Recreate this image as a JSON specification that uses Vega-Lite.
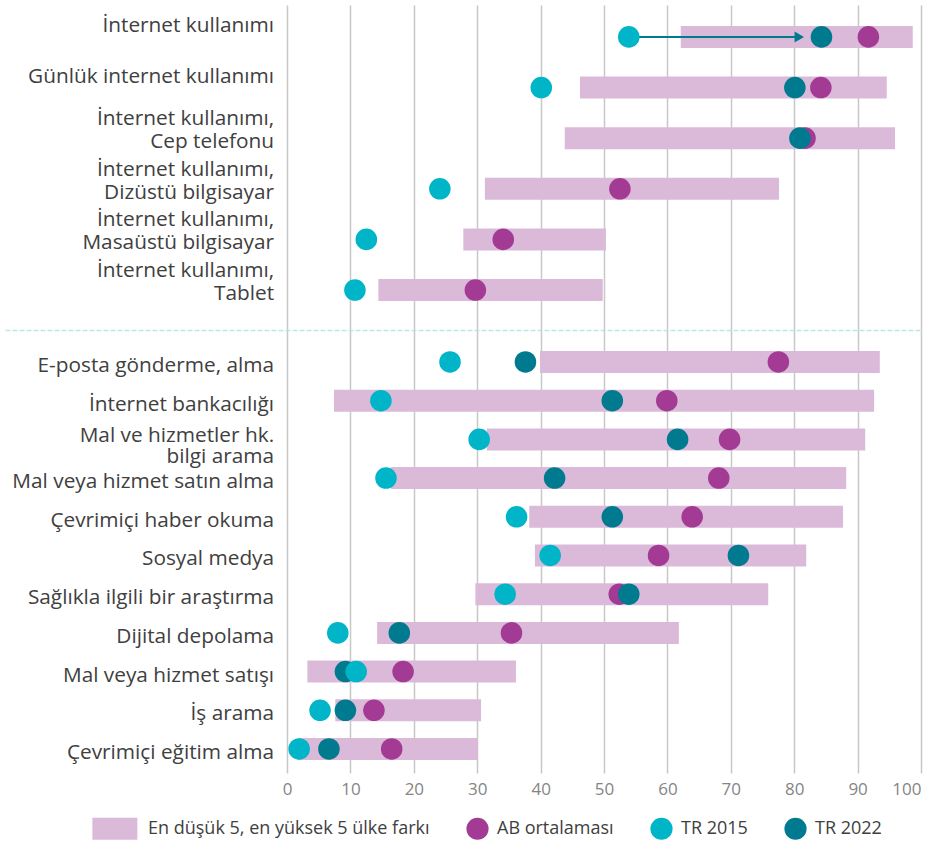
{
  "$schema": "https://vega.github.io/schema/vega-lite/v6.json",
  "datasets": {
    "araliklar": [
      {"grup": "ust", "kategori": "İnternet kullanımı", "alt": 62.1, "ust": 98.7},
      {"grup": "ust", "kategori": "Günlük internet kullanımı", "alt": 46.2, "ust": 94.6},
      {"grup": "ust", "kategori": "İnternet kullanımı,\nCep telefonu", "alt": 43.8, "ust": 95.9},
      {"grup": "ust", "kategori": "İnternet kullanımı,\nDizüstü bilgisayar", "alt": 31.2, "ust": 77.6},
      {"grup": "ust", "kategori": "İnternet kullanımı,\nMasaüstü bilgisayar", "alt": 27.8, "ust": 50.3},
      {"grup": "ust", "kategori": "İnternet kullanımı,\nTablet", "alt": 14.4, "ust": 49.8},
      {"grup": "alt", "kategori": "E-posta gönderme, alma", "alt": 39.9, "ust": 93.5},
      {"grup": "alt", "kategori": "İnternet bankacılığı", "alt": 7.4, "ust": 92.6},
      {"grup": "alt", "kategori": "Mal ve hizmetler hk.\nbilgi arama", "alt": 31.5, "ust": 91.2},
      {"grup": "alt", "kategori": "Mal veya hizmet satın alma", "alt": 16.4, "ust": 88.2},
      {"grup": "alt", "kategori": "Çevrimiçi haber okuma", "alt": 38.2, "ust": 87.7},
      {"grup": "alt", "kategori": "Sosyal medya", "alt": 39.1, "ust": 81.9},
      {"grup": "alt", "kategori": "Sağlıkla ilgili bir araştırma", "alt": 29.7, "ust": 75.9},
      {"grup": "alt", "kategori": "Dijital depolama", "alt": 14.2, "ust": 61.8},
      {"grup": "alt", "kategori": "Mal veya hizmet satışı", "alt": 3.2, "ust": 36.1},
      {"grup": "alt", "kategori": "İş arama", "alt": 7.6, "ust": 30.6},
      {"grup": "alt", "kategori": "Çevrimiçi eğitim alma", "alt": 1.7, "ust": 30.1}
    ],
    "noktalar": [
      {"grup": "ust", "kategori": "İnternet kullanımı", "seri": "AB ortalaması", "deger": 91.7},
      {"grup": "ust", "kategori": "İnternet kullanımı", "seri": "TR 2022", "deger": 84.3},
      {"grup": "ust", "kategori": "İnternet kullanımı", "seri": "TR 2015", "deger": 53.9},
      {"grup": "ust", "kategori": "Günlük internet kullanımı", "seri": "AB ortalaması", "deger": 84.2},
      {"grup": "ust", "kategori": "Günlük internet kullanımı", "seri": "TR 2022", "deger": 80.1},
      {"grup": "ust", "kategori": "Günlük internet kullanımı", "seri": "TR 2015", "deger": 40.1},
      {"grup": "ust", "kategori": "İnternet kullanımı,\nCep telefonu", "seri": "AB ortalaması", "deger": 81.7},
      {"grup": "ust", "kategori": "İnternet kullanımı,\nCep telefonu", "seri": "TR 2022", "deger": 80.9},
      {"grup": "ust", "kategori": "İnternet kullanımı,\nDizüstü bilgisayar", "seri": "AB ortalaması", "deger": 52.5},
      {"grup": "ust", "kategori": "İnternet kullanımı,\nDizüstü bilgisayar", "seri": "TR 2015", "deger": 24.1},
      {"grup": "ust", "kategori": "İnternet kullanımı,\nMasaüstü bilgisayar", "seri": "AB ortalaması", "deger": 34.1},
      {"grup": "ust", "kategori": "İnternet kullanımı,\nMasaüstü bilgisayar", "seri": "TR 2015", "deger": 12.5},
      {"grup": "ust", "kategori": "İnternet kullanımı,\nTablet", "seri": "AB ortalaması", "deger": 29.7},
      {"grup": "ust", "kategori": "İnternet kullanımı,\nTablet", "seri": "TR 2015", "deger": 10.7},
      {"grup": "alt", "kategori": "E-posta gönderme, alma", "seri": "AB ortalaması", "deger": 77.5},
      {"grup": "alt", "kategori": "E-posta gönderme, alma", "seri": "TR 2022", "deger": 37.6},
      {"grup": "alt", "kategori": "E-posta gönderme, alma", "seri": "TR 2015", "deger": 25.7},
      {"grup": "alt", "kategori": "İnternet bankacılığı", "seri": "AB ortalaması", "deger": 59.9},
      {"grup": "alt", "kategori": "İnternet bankacılığı", "seri": "TR 2022", "deger": 51.3},
      {"grup": "alt", "kategori": "İnternet bankacılığı", "seri": "TR 2015", "deger": 14.8},
      {"grup": "alt", "kategori": "Mal ve hizmetler hk.\nbilgi arama", "seri": "AB ortalaması", "deger": 69.8},
      {"grup": "alt", "kategori": "Mal ve hizmetler hk.\nbilgi arama", "seri": "TR 2022", "deger": 61.6},
      {"grup": "alt", "kategori": "Mal ve hizmetler hk.\nbilgi arama", "seri": "TR 2015", "deger": 30.3},
      {"grup": "alt", "kategori": "Mal veya hizmet satın alma", "seri": "AB ortalaması", "deger": 68.1},
      {"grup": "alt", "kategori": "Mal veya hizmet satın alma", "seri": "TR 2022", "deger": 42.2},
      {"grup": "alt", "kategori": "Mal veya hizmet satın alma", "seri": "TR 2015", "deger": 15.6},
      {"grup": "alt", "kategori": "Çevrimiçi haber okuma", "seri": "AB ortalaması", "deger": 63.9},
      {"grup": "alt", "kategori": "Çevrimiçi haber okuma", "seri": "TR 2022", "deger": 51.3},
      {"grup": "alt", "kategori": "Çevrimiçi haber okuma", "seri": "TR 2015", "deger": 36.2},
      {"grup": "alt", "kategori": "Sosyal medya", "seri": "AB ortalaması", "deger": 58.6},
      {"grup": "alt", "kategori": "Sosyal medya", "seri": "TR 2022", "deger": 71.2},
      {"grup": "alt", "kategori": "Sosyal medya", "seri": "TR 2015", "deger": 41.5},
      {"grup": "alt", "kategori": "Sağlıkla ilgili bir araştırma", "seri": "AB ortalaması", "deger": 52.4},
      {"grup": "alt", "kategori": "Sağlıkla ilgili bir araştırma", "seri": "TR 2022", "deger": 53.9},
      {"grup": "alt", "kategori": "Sağlıkla ilgili bir araştırma", "seri": "TR 2015", "deger": 34.4},
      {"grup": "alt", "kategori": "Dijital depolama", "seri": "AB ortalaması", "deger": 35.4},
      {"grup": "alt", "kategori": "Dijital depolama", "seri": "TR 2022", "deger": 17.7},
      {"grup": "alt", "kategori": "Dijital depolama", "seri": "TR 2015", "deger": 8.0},
      {"grup": "alt", "kategori": "Mal veya hizmet satışı", "seri": "AB ortalaması", "deger": 18.3},
      {"grup": "alt", "kategori": "Mal veya hizmet satışı", "seri": "TR 2022", "deger": 9.2},
      {"grup": "alt", "kategori": "Mal veya hizmet satışı", "seri": "TR 2015", "deger": 10.9},
      {"grup": "alt", "kategori": "İş arama", "seri": "AB ortalaması", "deger": 13.7},
      {"grup": "alt", "kategori": "İş arama", "seri": "TR 2022", "deger": 9.2},
      {"grup": "alt", "kategori": "İş arama", "seri": "TR 2015", "deger": 5.2},
      {"grup": "alt", "kategori": "Çevrimiçi eğitim alma", "seri": "AB ortalaması", "deger": 16.5},
      {"grup": "alt", "kategori": "Çevrimiçi eğitim alma", "seri": "TR 2022", "deger": 6.6},
      {"grup": "alt", "kategori": "Çevrimiçi eğitim alma", "seri": "TR 2015", "deger": 1.9}
    ],
    "ok": [
      {"kategori": "İnternet kullanımı", "baslangic": 53.9, "bitis": 80.8}
    ]
  },
  "spacing": 0,
  "vconcat": [
    {
      "width": 916,
      "height": 325,
      "encoding": {
        "y": {
          "field": "kategori",
          "type": "nominal",
          "axis": null,
          "scale": {
            "domain": ["İnternet kullanımı", "Günlük internet kullanımı", "İnternet kullanımı,\nCep telefonu", "İnternet kullanımı,\nDizüstü bilgisayar", "İnternet kullanımı,\nMasaüstü bilgisayar", "İnternet kullanımı,\nTablet"],
            "paddingInner": 0,
            "paddingOuter": 0.21,
            "align": 0.31
          }
        }
      },
      "layer": [
        {
          "data": {"name": "araliklar"},
          "transform": [{"filter": "datum.grup == 'ust'"}],
          "mark": {"type": "bar", "height": 22},
          "encoding": {
            "x": {
              "field": "alt", "type": "quantitative", "title": null,
              "scale": {"domain": [-44.5, 100], "nice": false, "zero": false},
              "axis": {"values": [0, 10, 20, 30, 40, 50, 60, 70, 80, 90, 100], "labels": false, "ticks": false, "domain": true, "domainColor": "#bfe5e9", "domainDash": [5, 2], "domainWidth": 1.5, "grid": true, "gridColor": "#c8c8c8", "gridWidth": 1.5, "title": null}
            },
            "x2": {"field": "ust"},
            "color": {
              "datum": "En düşük 5, en yüksek 5 ülke farkı", "type": "nominal",
              "scale": {"domain": ["En düşük 5, en yüksek 5 ülke farkı", "AB ortalaması", "TR 2015", "TR 2022"], "range": ["#dbbad9", "#a33b94", "#00b5c8", "#007a8f"]}
            }
          }
        },
        {
          "data": {"name": "ok"},
          "mark": {"type": "rule", "color": "#007a8f", "strokeWidth": 2},
          "encoding": {
            "x": {"field": "baslangic", "type": "quantitative", "title": null, "scale": {"domain": [-44.5, 100], "nice": false, "zero": false}},
            "x2": {"field": "bitis"}
          }
        },
        {
          "data": {"name": "ok"},
          "mark": {"type": "point", "shape": "triangle-right", "filled": true, "size": 120, "color": "#007a8f", "opacity": 1},
          "encoding": {
            "x": {"field": "bitis", "type": "quantitative", "title": null, "scale": {"domain": [-44.5, 100], "nice": false, "zero": false}}
          }
        },
        {
          "data": {"name": "noktalar"},
          "transform": [{"filter": "datum.grup == 'ust'"}],
          "mark": {"type": "point", "filled": true, "size": 465, "opacity": 1, "strokeWidth": 0},
          "encoding": {
            "x": {"field": "deger", "type": "quantitative", "title": null, "scale": {"domain": [-44.5, 100], "nice": false, "zero": false}},
            "color": {
              "field": "seri", "type": "nominal", "title": null,
              "scale": {"domain": ["En düşük 5, en yüksek 5 ülke farkı", "AB ortalaması", "TR 2015", "TR 2022"], "range": ["#dbbad9", "#a33b94", "#00b5c8", "#007a8f"]}
            },
            "shape": {
              "field": "seri", "type": "nominal", "title": null,
              "scale": {"domain": ["En düşük 5, en yüksek 5 ülke farkı", "AB ortalaması", "TR 2015", "TR 2022"], "range": ["M-3.26,-1H0.8V1H-3.26Z", "circle", "circle", "circle"]}
            }
          }
        },
        {
          "data": {"name": "araliklar"},
          "transform": [{"filter": "datum.grup == 'ust' && indexof(datum.kategori, '\\n') < 0"}],
          "mark": {"type": "text", "align": "right", "baseline": "middle", "dx": -13, "dy": -11, "fontSize": 20.8, "font": "Open Sans", "color": "#404040"},
          "encoding": {
            "x": {"datum": 0, "type": "quantitative", "title": null, "scale": {"domain": [-44.5, 100], "nice": false, "zero": false}},
            "text": {"field": "kategori"}
          }
        },
        {
          "data": {"name": "araliklar"},
          "transform": [{"filter": "datum.grup == 'ust' && indexof(datum.kategori, '\\n') >= 0"}],
          "mark": {"type": "text", "align": "right", "baseline": "middle", "dx": -13, "dy": -19, "lineBreak": "\n", "lineHeight": 23, "fontSize": 20.8, "font": "Open Sans", "color": "#404040"},
          "encoding": {
            "x": {"datum": 0, "type": "quantitative", "title": null, "scale": {"domain": [-44.5, 100], "nice": false, "zero": false}},
            "text": {"field": "kategori"}
          }
        }
      ]
    },
    {
      "width": 916,
      "height": 443,
      "encoding": {
        "y": {
          "field": "kategori",
          "type": "nominal",
          "axis": null,
          "scale": {
            "domain": ["E-posta gönderme, alma", "İnternet bankacılığı", "Mal ve hizmetler hk.\nbilgi arama", "Mal veya hizmet satın alma", "Çevrimiçi haber okuma", "Sosyal medya", "Sağlıkla ilgili bir araştırma", "Dijital depolama", "Mal veya hizmet satışı", "İş arama", "Çevrimiçi eğitim alma"],
            "paddingInner": 0,
            "paddingOuter": 0.2235,
            "align": 0.73
          }
        }
      },
      "layer": [
        {
          "data": {"name": "araliklar"},
          "transform": [{"filter": "datum.grup == 'alt'"}],
          "mark": {"type": "bar", "height": 22},
          "encoding": {
            "x": {
              "field": "alt", "type": "quantitative", "title": null,
              "scale": {"domain": [-44.5, 100], "nice": false, "zero": false},
              "axis": {"values": [0, 10, 20, 30, 40, 50, 60, 70, 80, 90, 100], "labels": true, "ticks": false, "domain": false, "grid": true, "gridColor": "#c8c8c8", "gridWidth": 1.5, "labelFontSize": 17, "labelFont": "Open Sans", "labelColor": "#858585", "labelPadding": 8, "title": null}
            },
            "x2": {"field": "ust"},
            "color": {
              "datum": "En düşük 5, en yüksek 5 ülke farkı", "type": "nominal",
              "scale": {"domain": ["En düşük 5, en yüksek 5 ülke farkı", "AB ortalaması", "TR 2015", "TR 2022"], "range": ["#dbbad9", "#a33b94", "#00b5c8", "#007a8f"]}
            }
          }
        },
        {
          "data": {"name": "noktalar"},
          "transform": [{"filter": "datum.grup == 'alt'"}],
          "mark": {"type": "point", "filled": true, "size": 465, "opacity": 1, "strokeWidth": 0},
          "encoding": {
            "x": {"field": "deger", "type": "quantitative", "title": null, "scale": {"domain": [-44.5, 100], "nice": false, "zero": false}},
            "color": {
              "field": "seri", "type": "nominal", "title": null,
              "scale": {"domain": ["En düşük 5, en yüksek 5 ülke farkı", "AB ortalaması", "TR 2015", "TR 2022"], "range": ["#dbbad9", "#a33b94", "#00b5c8", "#007a8f"]}
            },
            "shape": {
              "field": "seri", "type": "nominal", "title": null,
              "scale": {"domain": ["En düşük 5, en yüksek 5 ülke farkı", "AB ortalaması", "TR 2015", "TR 2022"], "range": ["M-3.26,-1H0.8V1H-3.26Z", "circle", "circle", "circle"]}
            }
          }
        },
        {
          "data": {"name": "araliklar"},
          "transform": [{"filter": "datum.grup == 'alt' && indexof(datum.kategori, '\\n') < 0"}],
          "mark": {"type": "text", "align": "right", "baseline": "middle", "dx": -13, "dy": 4, "fontSize": 20.8, "font": "Open Sans", "color": "#404040"},
          "encoding": {
            "x": {"datum": 0, "type": "quantitative", "title": null, "scale": {"domain": [-44.5, 100], "nice": false, "zero": false}},
            "text": {"field": "kategori"}
          }
        },
        {
          "data": {"name": "araliklar"},
          "transform": [{"filter": "datum.grup == 'alt' && indexof(datum.kategori, '\\n') >= 0"}],
          "mark": {"type": "text", "align": "right", "baseline": "middle", "dx": -13, "dy": -3, "lineBreak": "\n", "lineHeight": 21, "fontSize": 20.8, "font": "Open Sans", "color": "#404040"},
          "encoding": {
            "x": {"datum": 0, "type": "quantitative", "title": null, "scale": {"domain": [-44.5, 100], "nice": false, "zero": false}},
            "text": {"field": "kategori"}
          }
        }
      ]
    }
  ],
  "resolve": {
    "scale": {"color": "shared", "shape": "shared"},
    "legend": {"color": "shared", "shape": "shared"}
  },
  "config": {
    "view": {"stroke": null},
    "font": "Open Sans",
    "legend": {
      "orient": "none",
      "legendX": 112,
      "legendY": 812,
      "direction": "horizontal",
      "title": null,
      "labelFontSize": 18,
      "labelFont": "Open Sans",
      "labelColor": "#404040",
      "labelLimit": 500,
      "symbolSize": 491,
      "symbolStrokeWidth": 0,
      "symbolOpacity": 1,
      "columnPadding": 36,
      "labelOffset": 8
    }
  }
}
